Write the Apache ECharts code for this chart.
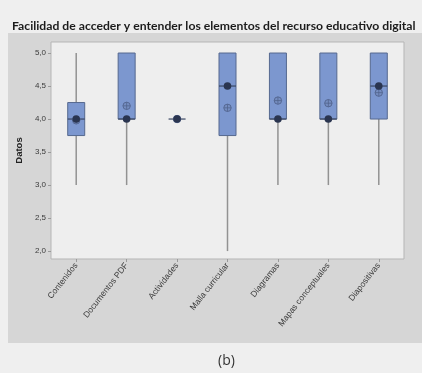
<!DOCTYPE html>
<html>
<head>
<meta charset="utf-8">
<script src="https://cdn.jsdelivr.net/npm/echarts@6/dist/echarts.min.js"></script>
<style>
  html, body { margin: 0; padding: 0; background: #efefef; }
  #chart { width: 422px; height: 373px; }
</style>
</head>
<body>
<div id="chart"></div>
<script>
// Categories and box-plot statistics (Likert scale 1-5)
const categories = ['Contenidos', 'Documentos PDF', 'Actividades', 'Malla curricular', 'Diagramas', 'Mapas conceptuales', 'Diapositivas'];
const minVals    = [3.0, 3.0, 4.0, 2.0, 3.0, 3.0, 3.0];
const q1Vals     = [3.75, 4.0, 4.0, 3.75, 4.0, 4.0, 4.0];
const medianVals = [4.0, 4.0, 4.0, 4.5, 4.0, 4.0, 4.5];
const q3Vals     = [4.25, 5.0, 4.0, 5.0, 5.0, 5.0, 5.0];
const maxVals    = [5.0, 5.0, 4.0, 5.0, 5.0, 5.0, 5.0];
const meanVals   = [3.98, 4.2, 4.0, 4.17, 4.28, 4.24, 4.4];
const yTicks     = [2.0, 2.5, 3.0, 3.5, 4.0, 4.5, 5.0];

const titleText = 'Facilidad de acceder y entender los elementos del recurso educativo digital';
const captionText = '(b)';

const boxData = categories.map((c, i) => [i, minVals[i], q1Vals[i], medianVals[i], q3Vals[i], maxVals[i], meanVals[i]]);

const chart = echarts.init(document.getElementById('chart'), null, { renderer: 'canvas' });

function renderBox(params, api) {
  const idx = api.value(0);
  const pMin = api.coord([idx, api.value(1)]);
  const pQ1 = api.coord([idx, api.value(2)]);
  const pMed = api.coord([idx, api.value(3)]);
  const pQ3 = api.coord([idx, api.value(4)]);
  const pMax = api.coord([idx, api.value(5)]);
  const pMean = api.coord([idx, api.value(6)]);
  const x = pQ1[0];
  const halfW = 8.5;
  const children = [];
  // whiskers
  if (pMin[1] > pQ1[1] + 0.5) {
    children.push({ type: 'line', shape: { x1: x, y1: pQ1[1], x2: x, y2: pMin[1] },
      style: { stroke: '#929292', lineWidth: 1.5 } });
  }
  if (pMax[1] < pQ3[1] - 0.5) {
    children.push({ type: 'line', shape: { x1: x, y1: pQ3[1], x2: x, y2: pMax[1] },
      style: { stroke: '#929292', lineWidth: 1.5 } });
  }
  // interquartile box
  if (pQ1[1] - pQ3[1] > 0.5) {
    children.push({ type: 'rect', shape: { x: x - halfW, y: pQ3[1], width: halfW * 2, height: pQ1[1] - pQ3[1] },
      style: { fill: '#7c97cf', stroke: '#56698f', lineWidth: 1 } });
  }
  // median line
  children.push({ type: 'line', shape: { x1: x - halfW, y1: pMed[1], x2: x + halfW, y2: pMed[1] },
    style: { stroke: '#3a4763', lineWidth: 1.2 } });
  // mean symbol (circle with cross)
  children.push({ type: 'circle', shape: { cx: pMean[0], cy: pMean[1], r: 3.7 },
    style: { fill: '#758dc0', stroke: '#52648e', lineWidth: 0.9 } });
  children.push({ type: 'line', shape: { x1: pMean[0] - 3.7, y1: pMean[1], x2: pMean[0] + 3.7, y2: pMean[1] },
    style: { stroke: '#52648e', lineWidth: 0.8 } });
  children.push({ type: 'line', shape: { x1: pMean[0], y1: pMean[1] - 3.7, x2: pMean[0], y2: pMean[1] + 3.7 },
    style: { stroke: '#52648e', lineWidth: 0.8 } });
  // median dot
  children.push({ type: 'circle', shape: { cx: pMed[0], cy: pMed[1], r: 3.8 },
    style: { fill: '#2a3550' } });
  return { type: 'group', children };
}

const option = {
  backgroundColor: '#efefef',
  animation: false,
  graphic: [
    { type: 'rect', z: -10, shape: { x: 8, y: 33, width: 414, height: 310 }, style: { fill: '#d6d6d6' } },
    { type: 'text', left: 218, top: 354, style: { text: captionText, font: '14px "Open Sans", sans-serif', fill: '#333' } }
  ],
  title: {
    text: titleText,
    left: 7, top: 15,
    textStyle: { fontFamily: 'Lato, sans-serif', fontSize: 12.2, fontWeight: 'bold', color: '#1c1c1c' }
  },
  grid: {
    left: 51, right: 18, top: 42, bottom: 114,
    show: true, backgroundColor: '#eeeeee', borderColor: '#b5b5b5', borderWidth: 1
  },
  xAxis: {
    type: 'category',
    data: categories,
    boundaryGap: true,
    axisLine: { show: false },
    axisTick: { show: true, alignWithLabel: true, length: 3, lineStyle: { color: '#9a9a9a' } },
    axisLabel: { rotate: 52, fontSize: 8.5, color: '#3a3a3a', margin: 5, fontFamily: 'Liberation Sans, sans-serif' },
    splitLine: { show: false }
  },
  yAxis: {
    type: 'value',
    min: 1.88, max: 5.167,
    name: 'Datos',
    nameLocation: 'middle',
    nameGap: 17,
    nameTextStyle: { fontSize: 9.5, fontWeight: 'bold', color: '#222', fontFamily: 'Liberation Sans, sans-serif' },
    axisLine: { show: false },
    axisTick: { show: true, length: 3, customValues: yTicks, lineStyle: { color: '#9a9a9a' } },
    axisLabel: {
      customValues: yTicks, fontSize: 8, color: '#3a3a3a', margin: 5,
      fontFamily: '"Liberation Sans Narrow", "Liberation Sans", sans-serif',
      formatter: v => v.toFixed(1).replace('.', ',')
    },
    splitLine: { show: false }
  },
  series: [{
    type: 'custom',
    renderItem: renderBox,
    encode: { x: 0, y: [1, 2, 3, 4, 5, 6] },
    data: boxData
  }]
};
chart.setOption(option);
</script>
</body>
</html>
